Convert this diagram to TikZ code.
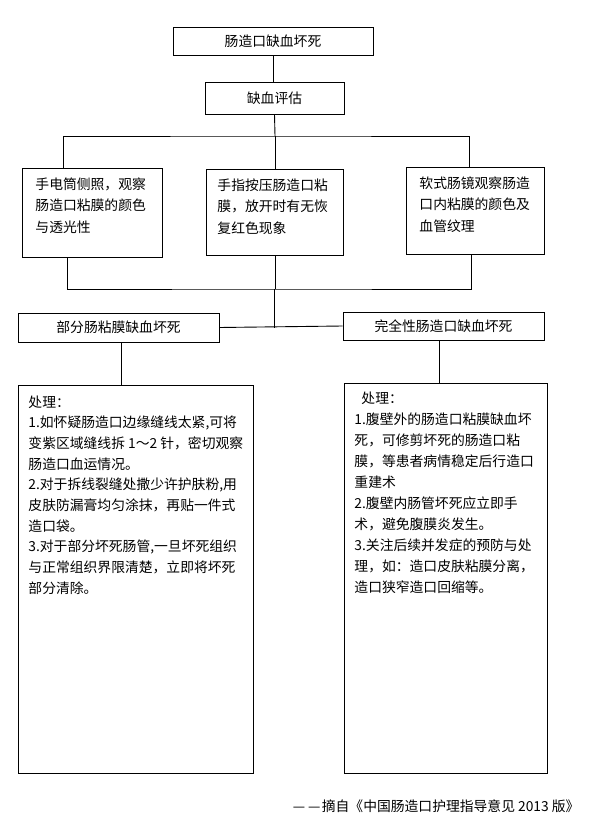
\documentclass[tikz,border=0pt]{standalone}
\usepackage{fontspec}
\setmainfont{Noto Sans CJK SC}
\usetikzlibrary{positioning, calc}
\newcommand{\boxtext}[3]{\parbox[c][#1][t]{#2}{#3}}
\newcommand{\wdash}{\makebox[1.1em]{—}}
\tikzset{
	titlebox/.style={rectangle, draw=black, line width=0.9pt, inner sep=0pt, align=center},
	notebox/.style ={rectangle, draw=black, line width=0.9pt, anchor=north west, inner xsep=13pt, inner ysep=9pt, font=\fontsize{13.8}{21.5}\selectfont},
	treatbox/.style={rectangle, draw=black, line width=0.9pt, anchor=north west, inner xsep=10pt},
	link/.style    ={draw=black, line width=0.9pt},
}
\begin{document}
\begin{tikzpicture}[x=1pt, y=-1pt, font=\fontsize{13.8}{20.7}\selectfont]
	\useasboundingbox (0,0) rectangle (598,829);
	\node[titlebox, minimum width=200pt, minimum height=28pt] (necrosis) at (273,41) {肠造口缺血坏死};
	\node[titlebox, minimum width=139pt, minimum height=32pt] (assess) at (274.5,98) {缺血评估};
	% three ways of assessing
	\node[notebox] (torch) at (22,168) {\boxtext{71pt}{114pt}{手电筒侧照，观察\\肠造口粘膜的颜色\\与透光性}};
	\node[notebox, inner xsep=11pt] (press) at (206,169) {\boxtext{68pt}{115pt}{手指按压肠造口粘\\膜，放开时有无恢\\复红色现象}};
	\node[notebox] (scope) at (406,167) {\boxtext{69pt}{112pt}{软式肠镜观察肠造\\口内粘膜的颜色及\\血管纹理}};
	% two kinds of necrosis
	\node[titlebox, minimum width=201pt, minimum height=29pt] (partial) at (118.5,327.5) {部分肠粘膜缺血坏死};
	\node[titlebox, minimum width=201pt, minimum height=28pt] (full) at (443.5,326) {完全性肠造口缺血坏死};
	\node[treatbox, inner ysep=10pt] (treatL) at (18,385) {\boxtext{368pt}{215pt}{处理：\\
		1.如怀疑肠造口边缘缝线太紧,可将\\
		变紫区域缝线拆 1～2 针，密切观察\\
		肠造口血运情况。\\
		2.对于拆线裂缝处撒少许护肤粉,用\\
		皮肤防漏膏均匀涂抹，再贴一件式\\
		造口袋。\\
		3.对于部分坏死肠管,一旦坏死组织\\
		与正常组织界限清楚，立即将坏死\\
		部分清除。}};
	\node[treatbox, inner ysep=8pt, font=\fontsize{13.8}{21}\selectfont] (treatR) at (344,383) {\boxtext{374pt}{183pt}{\hspace*{7pt}处理：\\
		1.腹壁外的肠造口粘膜缺血坏\\
		死，可修剪坏死的肠造口粘\\
		膜，等患者病情稳定后行造口\\
		重建术\\
		2.腹壁内肠管坏死应立即手\\
		术，避免腹膜炎发生。\\
		3.关注后续并发症的预防与处\\
		理，如：造口皮肤粘膜分离，\\
		造口狭窄造口回缩等。}};
	\node[anchor=east] (source) at (583,806) {\wdash\wdash 摘自《中国肠造口护理指导意见 2013 版》};
	% connectors
	\coordinate (busTop) at (275,136);
	\coordinate (busBot) at (274,289);
	\draw[link] (necrosis.south) -- (necrosis.south |- assess.north);
	\draw[link] (assess.south) -- (busTop);
	\draw[link] ([xshift=-29pt]torch.north) |- (busTop) -| ([xshift=-6pt]scope.north);
	\draw[link] (busTop) -- (busTop |- press.north);
	\draw[link] ([xshift=-25pt]torch.south) |- (busBot) -| ([xshift=-4pt]scope.south);
	\draw[link] (press.south) -- (press.south |- busBot);
	\draw[link] (busBot) -- (busBot |- partial.east);
	\draw[link] (partial.east) -- (full.west);
	\draw[link] ([xshift=2.5pt]partial.south) -- ([xshift=2.5pt]partial.south |- treatL.north);
	\draw[link] ([xshift=-4.5pt]full.south) -- ([xshift=-4.5pt]full.south |- treatR.north);
\end{tikzpicture}
\end{document}
